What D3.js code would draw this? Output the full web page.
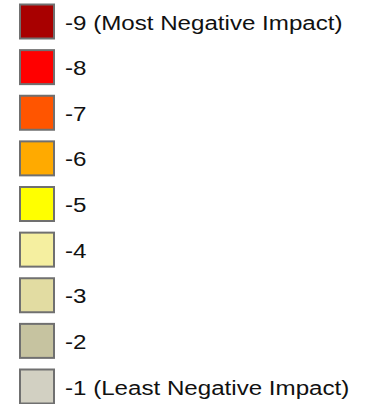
<!DOCTYPE html>
<html>
<head>
<meta charset="UTF-8">
<title>Impact Legend</title>
<script src="https://cdn.jsdelivr.net/npm/d3@7"></script>
<style>
  body { margin: 0; background: #fff; }
  text { font-family: "Liberation Sans", Arial, sans-serif; }
</style>
</head>
<body>
<div class="container"></div>
<script>
var categories = ["-9 (Most Negative Impact)", "-8", "-7", "-6", "-5", "-4", "-3", "-2", "-1 (Least Negative Impact)"];
var values = [-9, -8, -7, -6, -5, -4, -3, -2, -1];
var colors = ["#a80000", "#ff0000", "#ff5500", "#ffaa00", "#ffff00", "#f5efa0", "#e2dca2", "#c6c3a0", "#d2d0c2"];

var width = 366, height = 404,
    box = 34;

var svg = d3.select(".container")
    .append("svg")
    .attr("width", width)
    .attr("height", height);

// top of each swatch, first row to last row
var y = d3.scalePoint()
    .domain(values)
    .range([4.5, 369.5]);

var color = d3.scaleOrdinal()
    .domain(values)
    .range(colors);

var row = svg.selectAll("g.row")
    .data(values)
    .enter().append("g")
    .attr("class", "row")
    .attr("transform", function(d) { return "translate(0," + y(d) + ")"; });

row.append("rect")
    .attr("x", 20)
    .attr("y", 0)
    .attr("width", box)
    .attr("height", box)
    .style("fill", function(d) { return color(d); })
    .style("stroke", "#707070")
    .style("stroke-width", 2);

// labels look a little wide in the original, so stretch them horizontally
row.append("text")
    .attr("transform", "translate(65," + (box / 2 + 8) + ") scale(1.15,1)")
    .style("font-size", "21px")
    .style("fill", "#111")
    .text(function(d, i) { return categories[i]; });
</script>
</body>
</html>
